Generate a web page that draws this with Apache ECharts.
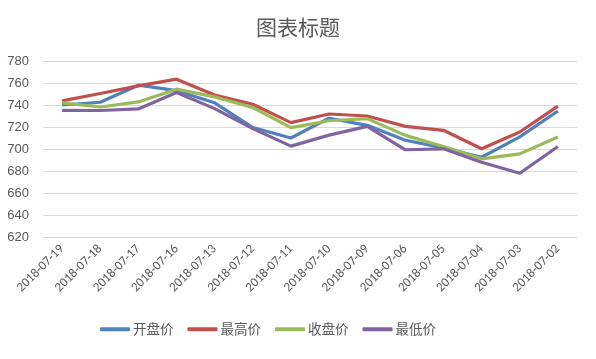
<!DOCTYPE html>
<html><head><meta charset="utf-8">
<script src="https://cdn.jsdelivr.net/npm/echarts@6/dist/echarts.min.js"></script>
<style>html,body{margin:0;padding:0;background:#fff}#c{width:596px;height:359px}</style>
</head><body><div id="c"></div>
<script>
const categories = ['2018-07-19','2018-07-18','2018-07-17','2018-07-16','2018-07-13','2018-07-12','2018-07-11','2018-07-10','2018-07-09','2018-07-06','2018-07-05','2018-07-04','2018-07-03','2018-07-02'];
const openPrice  = [740, 742.5, 758, 753, 742, 719.5, 710, 728, 721.5, 708, 701, 692.5, 711, 734.5];
const highPrice  = [743.7, 750.5, 757.4, 763.5, 749, 740.7, 724, 731.8, 730, 720.6, 717, 700.2, 715.5, 739];
const closePrice = [742, 738.2, 742.8, 754.4, 747.4, 737.7, 719.4, 725.7, 727.6, 712.4, 702.3, 691.1, 695.6, 710.9];
const lowPrice   = [735.2, 735, 736.4, 751.4, 736.7, 718.5, 702.6, 712.6, 720.6, 699.3, 700.2, 688, 678, 702.3];
const seriesNames = ['开盘价','最高价','收盘价','最低价'];
const yTicks = {min: 620, max: 780, interval: 20};

const colors = ['#4F81BD','#C0504D','#9BBB59','#8064A2'];
const dataSets = [openPrice, highPrice, closePrice, lowPrice];
const chart = echarts.init(document.getElementById('c'));
chart.setOption({
  animation: false,
  color: colors,
  title: {text: '图表标题', left: 'center', top: 12, textStyle: {fontSize: 21, fontWeight: 'normal', color: '#595959', fontFamily: 'Noto Sans CJK SC'}},
  grid: {left: 43, right: 19, top: 61, bottom: 122},
  legend: {left: 95, bottom: 18, itemWidth: 30, itemHeight: 4, itemGap: 14, icon: 'roundRect',
    textStyle: {fontSize: 13.5, color: '#595959', fontFamily: 'Noto Sans CJK SC', padding: [0, 0, 0, -2]}, data: seriesNames},
  xAxis: {type: 'category', data: categories, boundaryGap: true,
    axisLine: {show: false}, axisTick: {show: false},
    axisLabel: {rotate: 45, fontSize: 13, color: '#595959', fontFamily: 'Carlito, Liberation Sans, sans-serif', interval: 0, margin: 10}},
  yAxis: {type: 'value', min: yTicks.min, max: yTicks.max, interval: yTicks.interval,
    axisLine: {show: false}, axisTick: {show: false},
    axisLabel: {fontSize: 13, color: '#595959', fontFamily: 'Liberation Sans, sans-serif', margin: 14},
    splitLine: {lineStyle: {color: '#d9d9d9', width: 1}}},
  series: seriesNames.map((n, i) => ({name: n, type: 'line', data: dataSets[i], symbol: 'none',
    lineStyle: {width: 3.2, color: colors[i]}, itemStyle: {color: colors[i]}}))
});
</script></body></html>
